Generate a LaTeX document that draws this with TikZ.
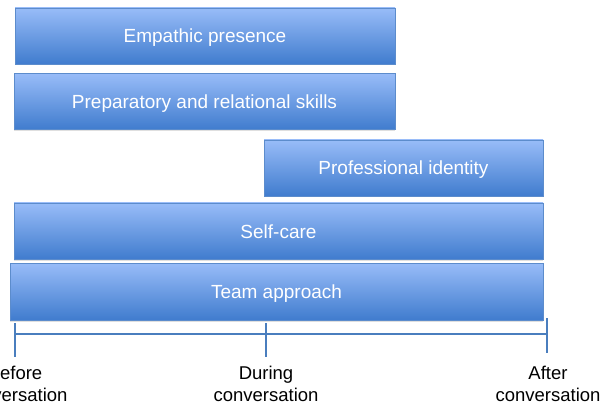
\documentclass[tikz,border=0pt]{standalone}
\usepackage{fontspec}
\setmainfont{Liberation Sans}
\usepackage{tikz}
\usetikzlibrary{shadows}
\definecolor{bartop}{RGB}{152,188,248}
\definecolor{barmid}{RGB}{120,163,230}
\definecolor{barbot}{RGB}{64,124,206}
\definecolor{barline}{RGB}{92,140,204}
\definecolor{axis}{RGB}{74,126,190}

\begin{document}
\begin{tikzpicture}[x=1pt, y=-1pt,
	phase/.style={draw=barline, line width=0.8pt, inner sep=0pt, top color=bartop, middle color=barmid, bottom color=barbot,
		text=white, font=\fontsize{19}{22}\selectfont, text height=14pt, text depth=0pt, minimum height=56pt,
		drop shadow={shadow xshift=0pt, shadow yshift=-1.5pt, opacity=0.25}},
	axisline/.style={draw=axis, line width=2pt},
	when/.style={align=center, anchor=north, inner sep=0pt, font=\fontsize{18.5}{21.5}\selectfont}]
\useasboundingbox (0,0) rectangle (611,409);
\node[phase, minimum width=380pt] (empathy) at (205,36) {Empathic presence};
\node[phase, minimum width=381pt] (skills) at (204.5,101.5) {Preparatory and relational skills};
\node[phase, minimum width=279pt] (identity) at (403.5,168) {Professional identity};
\node[phase, minimum width=529pt] (selfcare) at (278.5,231) {Self-care};
\node[phase, minimum width=533pt, minimum height=57pt] (team) at (276.5,291.5) {Team approach};
\coordinate (before) at (15,334);
\coordinate (during) at (266,334);
\coordinate (after) at (547,334);
\coordinate (b-top) at (15,323);
\coordinate (b-bot) at (15,357);
\coordinate (d-top) at (266,323);
\coordinate (d-bot) at (266,357);
\coordinate (a-top) at (547,318);
\coordinate (a-bot) at (547,353);
\path[axisline] (before) -- (after);
\path[axisline] (b-top) -- (b-bot);
\path[axisline] (d-top) -- (d-bot);
\path[axisline] (a-top) -- (a-bot);
\node[when] (before-label) at (15,366) {Before\\conversation};
\node[when] (during-label) at (266,366) {During\\conversation};
\node[when] (after-label) at (548,366) {After\\conversation};
\end{tikzpicture}
\end{document}
